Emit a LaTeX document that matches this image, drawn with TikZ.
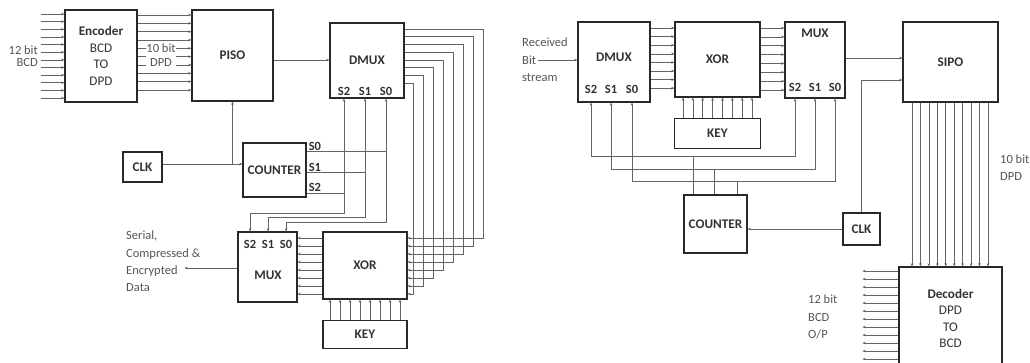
\documentclass[tikz,border=0pt]{standalone}
\usepackage{fontspec}
\setmainfont{Carlito}
\usepackage{tikz}
\usetikzlibrary{arrows.meta,positioning,calc}
\definecolor{wiregray}{RGB}{100,100,100}
\definecolor{boxgray}{RGB}{40,40,40}
\definecolor{txtgray}{RGB}{50,50,50}
\definecolor{lblgray}{RGB}{85,85,85}

\begin{document}
\begin{tikzpicture}[x=1pt,y=-1pt,
    every node/.style={font=\fontsize{13.2}{16.5}\selectfont,text=txtgray,align=center,inner sep=0pt},
    blk/.style={draw=boxgray,line width=1.1pt},
    wire/.style={draw=wiregray,line width=0.55pt},
    arr/.style={-{Stealth[length=3.2pt,width=2.6pt]}},
    rarr/.style={{Stealth[length=3.2pt,width=2.6pt]}-},
    darr/.style={{Stealth[length=3.2pt,width=2.6pt]}-{Stealth[length=3.2pt,width=2.6pt]}},
    sl/.style={font=\fontsize{12.5}{14}\selectfont\bfseries},
    lbl/.style={text=lblgray,align=left}]
    \path[use as bounding box] (0,0) rectangle (1030,363);
    \clip (0,0) rectangle (1030,363);
    % transmitter
    \node[blk,minimum width=72,minimum height=92] (enc) at (101,56) {\textbf{Encoder}\\BCD\\TO\\DPD};
    \node[blk,minimum width=81,minimum height=91] (piso) at (232.5,55.5) {\textbf{PISO}};
    \node[blk,minimum width=74,minimum height=75] (dmx) at (367,60.5) {\textbf{DMUX}};
    \foreach \s/\xx in {2/344,1/365,0/386}{\node[sl] (ls\s) at (\xx,91) {S\s};}
    \node[blk,minimum width=84,minimum height=67] (xl) at (365,265.5) {\textbf{XOR}};
    \node[blk,minimum width=84,minimum height=28,below=20pt of xl] (kl) {\textbf{KEY}};
    \node[blk,minimum width=59,minimum height=70] (mx) at (267.5,267) {};
    \node (mxt) at (268,275) {\textbf{MUX}};
    \foreach \s/\xx in {2/250,1/268,0/286}{\node[sl] (ms\s) at (\xx,244) {S\s};}
    \node[blk,minimum width=39,minimum height=30] (clk) at (142.5,167) {\textbf{CLK}};
    \node[blk,minimum width=63,minimum height=54] (cnt) at (274.5,170) {\textbf{COUNTER}};
    \foreach \s/\yy in {0/146,1/167,2/187}{\node[sl,anchor=west] (cs\s) at ([xshift=2pt]cnt.east |- 0,\yy) {S\s};}
    \node[lbl,anchor=east,align=right,font=\fontsize{12.5}{12.5}\selectfont] (inl) at (38,56) {12 bit\\BCD};
    \node[lbl,anchor=north west,font=\fontsize{12.5}{17.3}\selectfont] (outl) at (126,231) {Serial,\\Compressed \&\\Encrypted\\Data};

    \foreach \i [evaluate=\i as \yy using 14+7.64*\i] in {0,...,11}{\draw[wire,rarr] (enc.west |- 0,\yy) -- ++(-23,0);}
    \foreach \i [evaluate=\i as \yy using 15+8.33*\i] in {0,...,9}{\draw[wire,arr] (enc.east |- 0,\yy) -- (piso.west |- 0,\yy);}
    \node[lbl,fill=white,inner sep=0.5pt,align=center,font=\fontsize{12.5}{14}\selectfont] (bits) at (161,55) {10 bit\\DPD};
    \draw[wire,arr] (piso.east |- 0,60) -- (dmx.west |- 0,60);
    \foreach \i [evaluate=\i as \ya using 29+7.7*\i, evaluate=\i as \xb using 483-10*\i, evaluate=\i as \yb using 238+8*\i] in {0,...,7}{
      \draw[wire,arr] (dmx.east |- 0,\ya) -- (\xb,\ya) -- (\xb,\yb) -- (xl.east |- 0,\yb);}
    \foreach \i [evaluate=\i as \xx using 330+10*\i] in {0,...,7}{\draw[wire,arr] (kl.north -| \xx,0) -- (xl.south -| \xx,0);}
    \foreach \i [evaluate=\i as \yy using 238+8*\i] in {0,...,7}{\draw[wire,arr] (xl.west |- 0,\yy) -- (mx.east |- 0,\yy);}
    \draw[wire,arr] (mx.west |- 0,268) -- ++(-53,0);
    \draw[wire,arr] (clk.east |- 0,164) -- (cnt.west |- 0,164);
    \draw[wire,arr] (piso.south |- 0,164) -- (piso.south);
    \foreach \s/\yy in {0/151,1/172,2/193}{\draw[wire] (cnt.east |- 0,\yy) -- (ls\s |- 0,\yy);}
    \foreach \s/\yy in {2/213,1/217,0/222}{\draw[wire,darr] (ls\s |- dmx.south) -- (ls\s |- 0,\yy) -| (ms\s |- mx.north);}

    % receiver
    \node[lbl,anchor=west,font=\fontsize{12.5}{17.5}\selectfont] (rx) at (522,60) {Received\\Bit\\stream};
    \node[blk,minimum width=72,minimum height=80] (rdmx) at (614,62) {};
    \node (rdmxt) at (614,57) {\textbf{DMUX}};
    \foreach \s/\xx in {2/591,1/611,0/632}{\node[sl] (rs\s) at (\xx,89) {S\s};}
    \node[blk,minimum width=85,minimum height=75] (rxor) at (717.5,59.5) {\textbf{XOR}};
    \node[blk,minimum width=86,minimum height=30,below=20pt of rxor] (rkey) {\textbf{KEY}};
    \node[blk,minimum width=60,minimum height=76] (rmux) at (815,60) {};
    \node (rmuxt) at (815,33) {\textbf{MUX}};
    \foreach \s/\xx in {2/795,1/815,0/835}{\node[sl] (rm\s) at (\xx,87) {S\s};}
    \node[blk,minimum width=95,minimum height=80] (sipo) at (950.5,62) {\textbf{SIPO}};
    \node[blk,minimum width=37,minimum height=32] (rclk) at (861.5,229) {\textbf{CLK}};
    \node[blk,minimum width=63,minimum height=58] (rcnt) at (715.5,224) {\textbf{COUNTER}};
    \node[blk,minimum width=103,minimum height=103] (dec) at (950.5,318.5) {\textbf{Decoder}\\DPD\\TO\\BCD};
    \node[lbl,anchor=west,font=\fontsize{12.5}{17}\selectfont] (tbits) at (1000,168) {10 bit\\DPD};
    \node[lbl,anchor=west,font=\fontsize{12.5}{17.5}\selectfont] (obits) at (808,317) {12 bit\\BCD\\O/P};

    \draw[wire,arr] ([xshift=16pt]rx.west) -- (rdmx.west |- rx.west);
    \foreach \i [evaluate=\i as \yy using 28+8.6*\i] in {0,...,7}{\draw[wire,arr] (rdmx.east |- 0,\yy) -- (rxor.west |- 0,\yy);}
    \foreach \i [evaluate=\i as \xx using 683+9.86*\i] in {0,...,7}{\draw[wire,arr] (rkey.north -| \xx,0) -- (rxor.south -| \xx,0);}
    \foreach \i [evaluate=\i as \yy using 28+8.86*\i] in {0,...,7}{\draw[wire,arr] (rxor.east |- 0,\yy) -- (rmux.west |- 0,\yy);}
    \draw[wire,arr] (rmux.east |- 0,58) -- (sipo.west |- 0,58);
    \draw[wire,arr] (rclk.north) |- (sipo.west |- 0,80);
    \draw[wire,arr] (rclk.west) -- (rcnt.east |- rclk.west);
    \foreach \s/\yy/\dx in {2/156/-22.5,1/169/-1.5,0/181/21.5}{
      \draw[wire,darr] (rs\s |- rdmx.south) -- (rs\s |- 0,\yy) -| (rm\s |- rmux.south);
      \draw[wire] ([xshift=\dx pt]rcnt.north) -- ([xshift=\dx pt]rcnt.north |- 0,\yy);}
    \foreach \i [evaluate=\i as \xx using 912+8.44*\i] in {0,...,9}{\draw[wire,arr] (sipo.south -| \xx,0) -- (dec.north -| \xx,0);}
    \foreach \i [evaluate=\i as \yy using 271+8*\i] in {0,...,11}{\draw[wire,arr] (dec.west |- 0,\yy) -- ++(-36,0);}
  \end{tikzpicture}
\end{document}
